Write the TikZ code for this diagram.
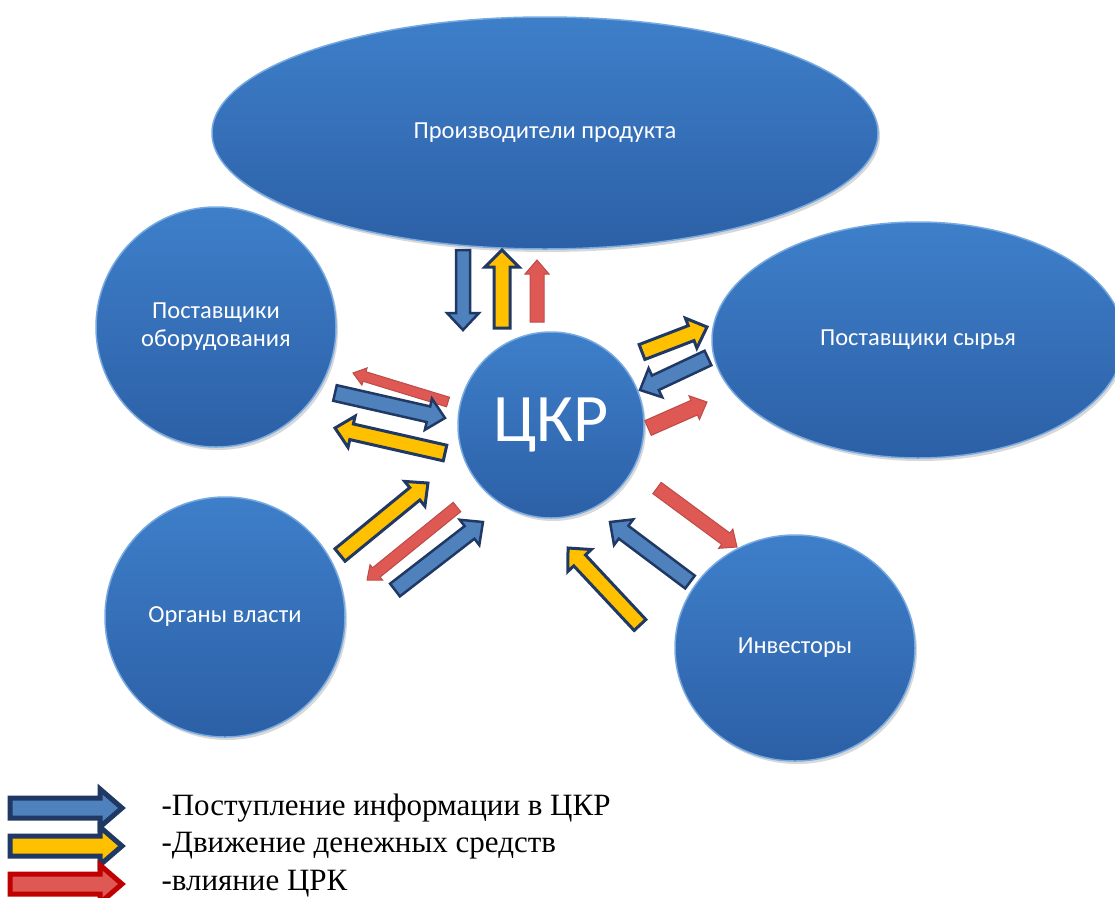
\documentclass[tikz,border=0pt]{standalone}
\usepackage{fontspec}
\setmainfont{Liberation Serif}
\newfontfamily\calibri{Carlito}
\usetikzlibrary{calc}
\usetikzlibrary{shapes.geometric, shadows}

\definecolor{blobtop}{RGB}{62,127,202}
\definecolor{blobbot}{RGB}{44,96,166}
\definecolor{rim}{RGB}{120,170,226}
\definecolor{navy}{RGB}{31,56,100}
\definecolor{infoblue}{RGB}{79,129,189}
\definecolor{cashyel}{RGB}{255,192,0}
\definecolor{inflred}{RGB}{222,88,84}
\definecolor{infldark}{RGB}{192,0,0}

% block arrow: [head length]{style}{tail}{tip}{shaft half width}{head half width}
\newcommand{\flow}[6][17pt]{%
  \draw[#2] let \p1=($(#4)-(#3)$), \n1={atan2(\y1,\x1)}, \n2={veclen(\x1,\y1)} in
    [shift={(#3)}, rotate=\n1]
    (0pt,-#5) -- ({\n2-#1},-#5) -- ({\n2-#1},-#6) -- (\n2,0pt)
    -- ({\n2-#1},#6) -- ({\n2-#1},#5) -- (0pt,#5) -- cycle;}

\begin{document}
\begin{tikzpicture}[
		x=1pt, y=-1pt,
		blob/.style={ellipse, inner sep=0pt, top color=blobtop, bottom color=blobbot,
			draw=rim, line width=1.5pt, text=white, align=center,
			font=\calibri\fontsize{24.5}{28}\selectfont,
			drop shadow={opacity=0.3, shadow xshift=2pt, shadow yshift=-3pt}},
		info/.style={fill=infoblue, draw=navy, line width=2.5pt},
		cash/.style={fill=cashyel, draw=navy, line width=3pt},
		infl/.style={fill=inflred, draw=inflred!85!black, line width=1pt},
		legend/.style={anchor=west, font=\fontsize{31}{36}\selectfont},
	]
	\useasboundingbox (0,0) rectangle (1115,897);
	\fill[white] (0,0) rectangle (1115,897);

	% participants
	\node[blob, minimum width=666pt, minimum height=232pt] (prod) at (545,133) {Производители продукта};
	\node[blob, minimum width=240pt, minimum height=240pt] (equip) at (216,327) {Поставщики\\оборудования};
	\node[blob, minimum width=412pt, minimum height=236pt] (raw) at (918,340) {Поставщики сырья};
	\node[blob, minimum width=240pt, minimum height=240pt] (gov) at (225,617) {Органы власти};
	\node[blob, minimum width=240pt, minimum height=226pt] (inv) at (795,648) {Инвесторы};
	\node[blob, minimum width=186pt, minimum height=186pt,
		font=\calibri\fontsize{68}{70}\selectfont] (ckr) at (551,425) {ЦКР};

	% arrow ends
	\coordinate (t1) at (463,250); \coordinate (h1) at (463,330);
	\coordinate (t2) at (502,328); \coordinate (h2) at (502,250);
	\coordinate (t3) at (537,322); \coordinate (h3) at (537,260);
	\coordinate (t4) at (448,402); \coordinate (h4) at (353,373);
	\coordinate (t5) at (335,393); \coordinate (h5) at (445,418);
	\coordinate (t6) at (445,453); \coordinate (h6) at (335,428);
	\coordinate (t7) at (642,352); \coordinate (h7) at (707,327);
	\coordinate (t8) at (708,358); \coordinate (h8) at (640,390);
	\coordinate (t9) at (648,428); \coordinate (h9) at (707,402);
	\coordinate (t10) at (340,555); \coordinate (h10) at (428,483);
	\coordinate (t11) at (457,507); \coordinate (h11) at (367,580);
	\coordinate (t12) at (395,590); \coordinate (h12) at (483,522);
	\coordinate (t13) at (657,488); \coordinate (h13) at (737,547);
	\coordinate (t14) at (690,582); \coordinate (h14) at (610,522);
	\coordinate (t15) at (640,625); \coordinate (h15) at (568,548);

	\flow{info}{t1}{h1}{7pt}{16pt}
	\flow{cash}{t2}{h2}{8pt}{17pt}
	\flow[14pt]{infl}{t3}{h3}{7pt}{12pt}
	\flow[12pt]{infl}{t4}{h4}{5pt}{9pt}
	\flow{info}{t5}{h5}{8pt}{16pt}
	\flow{cash}{t6}{h6}{8pt}{16pt}
	\flow{cash}{t7}{h7}{8pt}{16pt}
	\flow{info}{t8}{h8}{8pt}{16pt}
	\flow[14pt]{infl}{t9}{h9}{8pt}{13pt}
	\flow{cash}{t10}{h10}{8pt}{16pt}
	\flow[12pt]{infl}{t11}{h11}{6pt}{10pt}
	\flow{info}{t12}{h12}{8pt}{16pt}
	\flow[14pt]{infl}{t13}{h13}{7pt}{12pt}
	\flow{info}{t14}{h14}{8pt}{16pt}
	\flow{cash}{t15}{h15}{8pt}{16pt}

	% legend
	\coordinate (la) at (10,808); \coordinate (lb) at (122,808);
	\coordinate (lc) at (10,846); \coordinate (ld) at (122,846);
	\coordinate (le) at (10,884); \coordinate (lf) at (122,884);
	\flow[22pt]{info, line width=5pt}{la}{lb}{10pt}{19pt}
	\flow[22pt]{cash, line width=5pt}{lc}{ld}{10pt}{19pt}
	\flow[22pt]{infl, draw=infldark, line width=5pt}{le}{lf}{10pt}{19pt}
	\node[legend] (linfo) at (158,808) {-Поступление информации в ЦКР};
	\node[legend] (lcash) at (158,846) {-Движение денежных средств};
	\node[legend] (linfl) at (158,884) {-влияние ЦРК};
\end{tikzpicture}
\end{document}
